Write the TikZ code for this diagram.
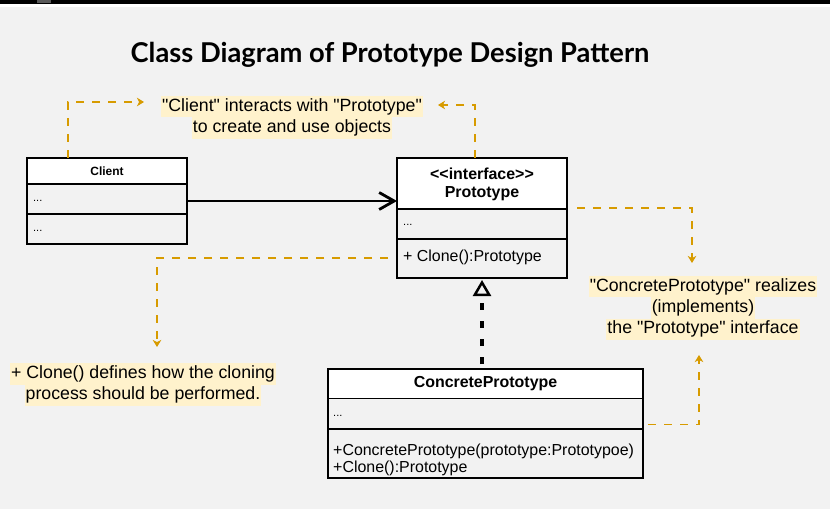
\documentclass[tikz,border=0pt]{standalone}
\usepackage{fontspec}
\setmainfont{Liberation Sans}
\newfontfamily\lsans{Liberation Sans}
\newfontfamily\titlefont{Lato}
\usetikzlibrary{arrows.meta,calc}
\definecolor{bg}{HTML}{F2F2F2}
\definecolor{hl}{HTML}{FFF2CC}
\definecolor{notec}{HTML}{D79B00}
\setlength{\fboxsep}{0pt}
\newcommand\hlline[1]{\colorbox{hl}{\strut\kern1bp#1\kern1bp}}
\begin{document}
\begin{tikzpicture}[x=1bp,y=-1bp,
  compart/.style={draw=black, line width=1.1bp, inner sep=0pt, outer sep=0pt, anchor=north west},
  headtxt/.style={inner sep=0pt, align=center, font=\lsans\bfseries\fontsize{16}{18}\selectfont},
  bodytxt/.style={inner sep=0pt, anchor=west, font=\lsans\fontsize{16}{19}\selectfont},
  dotstxt/.style={inner sep=0pt, anchor=west, font=\lsans\fontsize{11}{13}\selectfont},
  notetxt/.style={inner sep=0pt, align=center, font=\lsans\fontsize{17.8}{21.3}\selectfont},
  notearrow/.style={draw=notec, line width=1.2bp, dash pattern=on 8bp off 8bp,
    -{Stealth[length=7bp,width=8.5bp,inset=2bp]}},
  assoc/.style={draw=black, line width=2.8bp, -{Straight Barb[length=15bp,width=17bp,line width=2.8bp]}},
  realize/.style={draw=black, line width=3.2bp, dash pattern=on 7bp off 11bp, dash phase=13bp,
    -{Triangle[open,length=16bp,width=18bp,line width=2.5bp]}, shorten >=2bp}
]
\useasboundingbox (0,0) rectangle (830,511);
% background
\fill[white] (0,0) rectangle (830,511);
\fill[bg] (0,7.5) rectangle (830,509);
\fill[black] (0,0) rectangle (830,4);
\fill[black!65] (37,0) rectangle (51,3.5);

% title
\node[anchor=base, inner sep=0pt, font=\titlefont\bfseries\fontsize{27.4}{31}\selectfont] (title) at (390,63)
  {Class Diagram of Prototype Design Pattern};

% Client class
\node[compart, fill=white, minimum width=160bp, minimum height=26bp] (clienthead) at (27,158) {};
\node[compart, minimum width=160bp, minimum height=30bp] (clientattr) at (27,184) {};
\node[compart, minimum width=160bp, minimum height=30bp] (clientops) at (27,214) {};
\node[inner sep=0pt, font=\lsans\bfseries\fontsize{12}{14}\selectfont] (clientname) at ([yshift=-1.5bp]clienthead.center) {\strut Client};
\node[dotstxt] (clientattrtxt) at ([xshift=6bp]clientattr.west) {\strut...};
\node[dotstxt] (clientopstxt) at ([xshift=6bp]clientops.west) {\strut...};

% Prototype interface
\node[compart, fill=white, minimum width=170bp, minimum height=51bp] (protohead) at (397,158) {};
\node[compart, minimum width=170bp, minimum height=30bp] (protoattr) at (397,209) {};
\node[compart, minimum width=170bp, minimum height=39bp] (protoops) at (397,239) {};
\node[headtxt] (protoname) at ([yshift=-1bp]protohead.center)
  {\strut<<interface>>\\\strut Prototype};
\node[dotstxt] (protoattrtxt) at ([xshift=6bp,yshift=1bp]protoattr.west) {\strut...};
\node[bodytxt] (protoopstxt) at ([xshift=6bp,yshift=1bp]protoops.west) {\strut+ Clone():Prototype};

% ConcretePrototype class
\node[compart, fill=white, minimum width=315bp, minimum height=29.5bp] (cphead) at (328,369) {};
\node[compart, minimum width=315bp, minimum height=30.5bp] (cpattr) at (328,398.5) {};
\node[compart, minimum width=315bp, minimum height=49bp] (cpops) at (328,429) {};
\node[headtxt] (cpname) at (cphead.center) {\strut ConcretePrototype};
\node[dotstxt] (cpattrtxt) at ([xshift=5bp]cpattr.west) {\strut...};
\node[inner sep=0pt, anchor=north west, align=left, font=\lsans\fontsize{16}{17}\selectfont] (cpopstxt)
  at (333,443.1) {\strut+ConcretePrototype(prototype:Prototypoe)\\\strut+Clone():Prototype};

% notes
\node[notetxt] (note1) at (292,117.5)
  {\hlline{"Client" interacts with "Prototype"}\\\hlline{to create and use objects}};
\node[notetxt] (note2) at (143,384.5)
  {\hlline{+ Clone() defines how the cloning}\\\hlline{process should be performed.}};
\node[notetxt] (note3) at (703,308)
  {\hlline{"ConcretePrototype" realizes}\\\hlline{(implements)}\\\hlline{the "Prototype" interface}};

% relations
\draw[assoc] ([yshift=-2bp]clientattr.east) -- ([yshift=-2bp]clientattr.east -| protohead.west);
\draw[realize] (protoops.south |- cphead.north) -- (protoops.south);

% note connectors
\coordinate (n1s) at ($(clienthead.north west)+(41,0)$);
\coordinate (n1e) at (144,102);
\coordinate (n2s) at ($(protohead.north west)+(78,0)$);
\coordinate (n2e) at (438,105);
\coordinate (n3s) at ($(protoops.west)+(-9,-0.5)$);
\coordinate (n3e) at (157,347);
\coordinate (n4s) at ($(protohead.north east)+(10,50)$);
\coordinate (n4e) at (692,263);
\coordinate (n5s) at ($(cpattr.east)+(5,11)$);
\coordinate (n5e) at (699,355);
\draw[notearrow] (n1s) |- (n1e);
\draw[notearrow] (n2s) |- (n2e);
\draw[notearrow] (n3s) -| (n3e);
\draw[notearrow] (n4s) -| (n4e);
\draw[notearrow] (n5s) -| (n5e);
\end{tikzpicture}
\end{document}
